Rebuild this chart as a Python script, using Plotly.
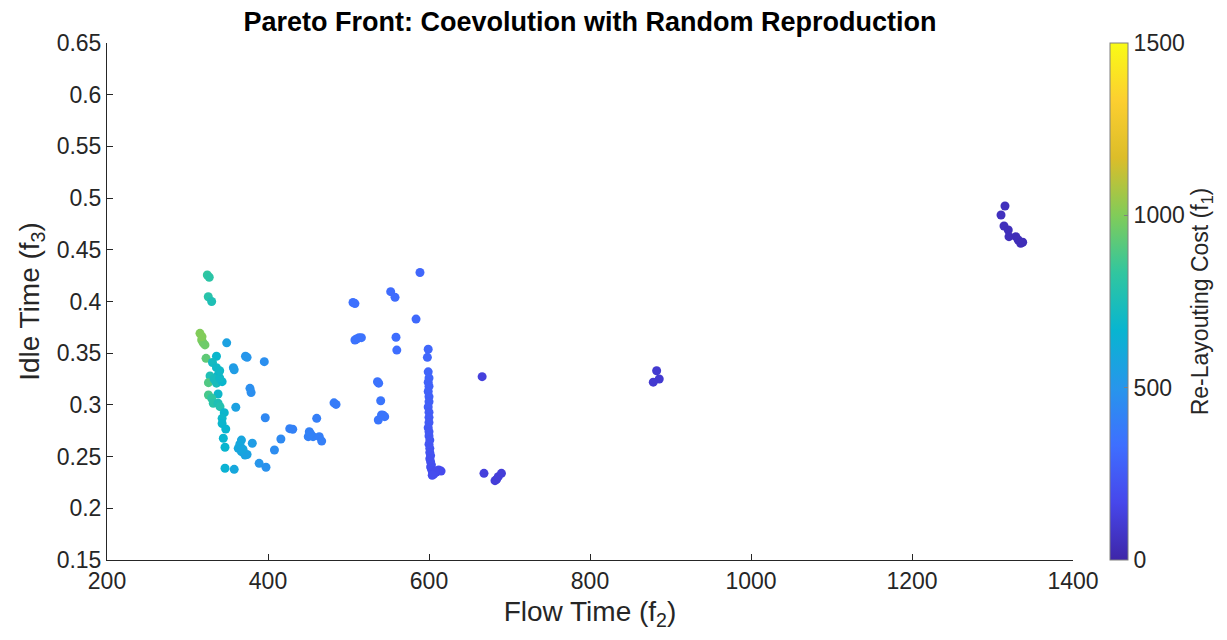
import plotly.graph_objects as go

# Flow time (f2), idle time (f3), re-layouting cost (f1) for each solution
flow_time = [
    324.6, 327, 325.8, 330, 315.5, 317.6, 319.5, 321.7, 318,
    323, 336, 331, 348.7, 372, 374, 357, 358,
    328, 338, 326, 336, 343, 333, 340,
    377.6, 379, 338, 326, 330, 332, 338, 340.4, 360, 345.7, 343, 396.6, 343, 347.5,
    344.5, 367, 380.5, 416, 346.6, 363, 367, 371.4, 374, 365, 369, 408, 389, 397.5,
    346.6, 358, 395.4, 336, 340,
    427, 430.7, 460.5, 451.3, 450, 456, 463.7, 466.7, 453, 482, 484.5,
    505.6, 508, 510, 513, 508, 516, 552.4, 557.8, 559, 560, 536, 537.5, 540, 541, 545, 537, 543,
    588.8, 583.9, 599, 598, 599,
    600, 599, 600, 599, 600, 600, 599, 600, 600, 600, 599, 600, 600, 601, 600, 601,
    601, 602, 601, 602, 603, 602, 603, 604, 605, 606, 609, 612, 615, 608, 604,
    666, 668.3, 682, 684, 686, 690,
    882.8, 886, 878.6,
    1315.5, 1310.6, 1314.3, 1319.6, 1320.5, 1329, 1332, 1335, 1337.5,
]
idle_time = [
    0.4256, 0.4234, 0.4046, 0.400, 0.3692, 0.3628, 0.360, 0.358, 0.366,
    0.345, 0.347, 0.341, 0.360, 0.347, 0.346, 0.336, 0.334,
    0.328, 0.329, 0.3215, 0.321, 0.3225, 0.325, 0.326,
    0.316, 0.312, 0.3105, 0.3096, 0.3064, 0.3016, 0.3016, 0.2983, 0.2977, 0.2925, 0.287, 0.2876, 0.282, 0.2767,
    0.2677, 0.266, 0.2629, 0.267, 0.259, 0.258, 0.2548, 0.2515, 0.252, 0.262, 0.257, 0.2564, 0.2435, 0.2397,
    0.2387, 0.2377, 0.3418, 0.336, 0.333,
    0.277, 0.2764, 0.287, 0.274, 0.2693, 0.2693, 0.2693, 0.265, 0.272, 0.302, 0.3005,
    0.399, 0.398, 0.3637, 0.365, 0.3628, 0.365, 0.4095, 0.404, 0.3654, 0.353, 0.3224, 0.321, 0.304, 0.2902, 0.2886, 0.2854, 0.290,
    0.428, 0.383, 0.3538, 0.346, 0.332,
    0.326, 0.322, 0.318, 0.313, 0.308, 0.303, 0.298, 0.293, 0.288, 0.283, 0.278, 0.274, 0.270, 0.266, 0.262, 0.258,
    0.254, 0.251, 0.248, 0.245, 0.242, 0.240, 0.238, 0.236, 0.234, 0.233, 0.235, 0.237, 0.236, 0.236, 0.232,
    0.3273, 0.2338, 0.2267, 0.228, 0.2306, 0.2338,
    0.333, 0.325, 0.322,
    0.4924, 0.4837, 0.473, 0.4692, 0.4627, 0.4627, 0.4595, 0.4563, 0.4573,
]
relayout_cost = [
    830, 810, 800, 760, 1000, 990, 970, 960, 1000,
    930, 680, 720, 560, 500, 500, 540, 540,
    760, 690, 900, 740, 680, 730, 700,
    470, 470, 690, 880, 830, 800, 760, 780, 560, 680, 690, 440, 680, 670,
    670, 580, 540, 450, 670, 590, 580, 570, 560, 590, 580, 460, 500, 480,
    650, 590, 470, 700, 700,
    410, 410, 400, 410, 410, 410, 400, 400, 410, 390, 390,
    340, 340, 350, 350, 350, 350, 320, 320, 330, 330, 350, 350, 360, 360, 360, 360, 360,
    300, 310, 300, 300, 290,
    290, 285, 280, 280, 275, 270, 265, 260, 255, 250, 245, 240, 240, 235, 230, 225,
    220, 215, 210, 210, 205, 200, 200, 195, 190, 190, 185, 180, 180, 185, 190,
    130, 130, 120, 120, 120, 120,
    100, 100, 100,
    50, 55, 50, 45, 45, 40, 40, 40, 40,
]

x_ticks = [200, 400, 600, 800, 1000, 1200, 1400]
y_ticks = [0.15, 0.2, 0.25, 0.3, 0.35, 0.4, 0.45, 0.5, 0.55, 0.6, 0.65]
cbar_ticks = [0, 500, 1000, 1500]

parula = [
    [0 / 9, "rgb(62,38,168)"],
    [1 / 9, "rgb(71,71,235)"],
    [2 / 9, "rgb(62,111,255)"],
    [3 / 9, "rgb(39,150,235)"],
    [4 / 9, "rgb(8,181,208)"],
    [5 / 9, "rgb(49,198,159)"],
    [6 / 9, "rgb(129,204,89)"],
    [7 / 9, "rgb(220,189,41)"],
    [8 / 9, "rgb(252,207,48)"],
    [9 / 9, "rgb(249,251,21)"],
]

font_family = "Liberation Sans, Arial, Helvetica, sans-serif"
txt = "#262626"

fig = go.Figure(
    go.Scatter(
        x=flow_time,
        y=idle_time,
        mode="markers",
        marker=dict(
            size=9,
            color=relayout_cost,
            colorscale=parula,
            cmin=0,
            cmax=1500,
            line=dict(width=0),
            colorbar=dict(
                title=dict(text="Re-Layouting Cost (f<sub>1</sub>)", side="right",
                           font=dict(size=23, color=txt, family=font_family)),
                tickvals=cbar_ticks,
                ticktext=[str(v) for v in cbar_ticks],
                tickfont=dict(size=23, color=txt, family=font_family),
                thickness=18,
                len=1,
                lenmode="fraction",
                y=0,
                yanchor="bottom",
                x=1.038,
                xanchor="left",
                xpad=0,
                ypad=0,
                outlinecolor="#808080",
                outlinewidth=1,
                ticks="inside",
                ticklen=4,
                tickcolor="#808080",
            ),
        ),
        showlegend=False,
    )
)

fig.update_layout(
    width=1227,
    height=640,
    margin=dict(l=99, r=162, t=35, b=88),
    paper_bgcolor="white",
    plot_bgcolor="white",
    font=dict(family=font_family, color=txt),
    title=dict(
        text="<b>Pareto Front: Coevolution with Random Reproduction</b>",
        x=582 / 1227,
        xanchor="center",
        y=1 - 14 / 640,
        yanchor="middle",
        font=dict(size=27, color="black", family=font_family),
    ),
    xaxis=dict(
        range=[200, 1400],
        tickvals=x_ticks,
        ticktext=[str(v) for v in x_ticks],
        showgrid=False,
        zeroline=False,
        showline=True,
        linecolor="#262626",
        linewidth=1,
        ticks="inside",
        ticklen=6,
        tickcolor="#262626",
        tickfont=dict(size=23, color=txt),
        title=dict(text="Flow Time (f<sub>2</sub>)", font=dict(size=28, color=txt), standoff=8),
    ),
    yaxis=dict(
        range=[0.15, 0.65],
        tickvals=y_ticks,
        ticktext=[f"{v:g}" for v in y_ticks],
        showgrid=False,
        zeroline=False,
        showline=True,
        linecolor="#262626",
        linewidth=1,
        ticks="inside",
        ticklen=6,
        tickcolor="#262626",
        tickfont=dict(size=23, color=txt),
        title=dict(text="Idle Time (f<sub>3</sub>)", font=dict(size=28, color=txt), standoff=8),
    ),
)

fig.write_html("out.html")
